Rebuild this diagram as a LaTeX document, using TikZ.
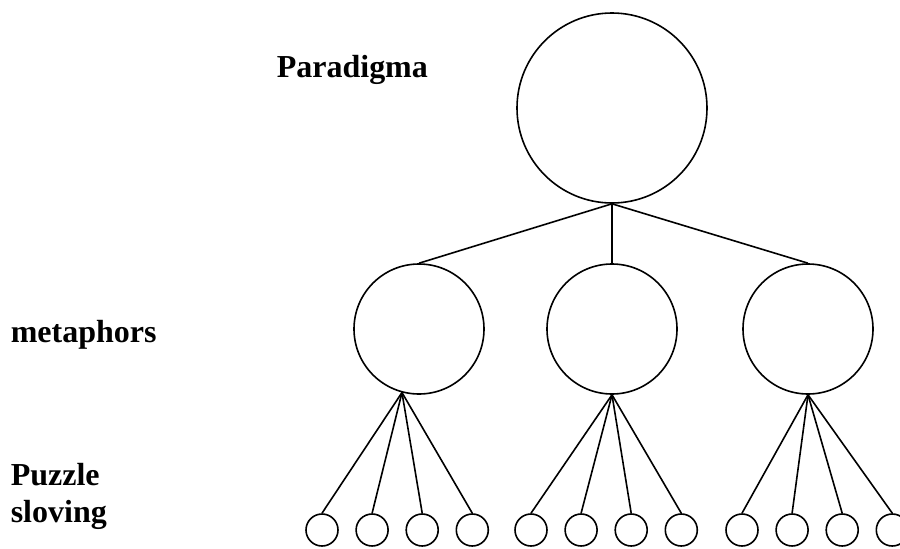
\documentclass[tikz,border=0pt]{standalone}
\usepackage{fontspec}
\setmainfont{Liberation Serif}
\usetikzlibrary{positioning}

\begin{document}
\begin{tikzpicture}[
x=1pt,y=-1pt,
node distance=16.5pt,
line width=1.6pt,
circ/.style={draw,circle,inner sep=0pt},
leaf/.style={circ,minimum size=32pt},
lbl/.style={anchor=base west,inner sep=0pt,align=left,font=\fontsize{32}{37}\selectfont\bfseries}
]
\useasboundingbox (0,0) rectangle (900,549);
\clip (0,0) rectangle (900,549);
\node[circ,minimum size=190pt] (para) at (612,108) {};
\node[circ,minimum size=130pt] (meta1) at (419,329) {};
\node[circ,minimum size=130pt] (meta2) at (612,329) {};
\node[circ,minimum size=130pt] (meta3) at (808,329) {};
\node[leaf] (pz1a) at (322,530) {};
\node[leaf,right=of pz1a] (pz1b) {};
\node[leaf,right=of pz1b] (pz1c) {};
\node[leaf,right=of pz1c] (pz1d) {};
\node[leaf] (pz2a) at (531,530) {};
\node[leaf,right=of pz2a] (pz2b) {};
\node[leaf,right=of pz2b] (pz2c) {};
\node[leaf,right=of pz2c] (pz2d) {};
\node[leaf] (pz3a) at (742,530) {};
\node[leaf,right=of pz3a] (pz3b) {};
\node[leaf,right=of pz3b] (pz3c) {};
\node[leaf,right=of pz3c] (pz3d) {};
\node[lbl] (lpara) at (276,77) {Paradigma};
\node[lbl] (lmeta) at (10,342) {metaphors};
\node[lbl] (lpz) at (10,522) {Puzzle\\sloving};
\draw (para.south) -- (meta1.north);
\draw (para.south) -- (meta2.north);
\draw (para.south) -- (meta3.north);
\draw (meta1.-105) -- (pz1a.north);
\draw (meta1.-105) -- (pz1b.north);
\draw (meta1.-105) -- (pz1c.north);
\draw (meta1.-105) -- (pz1d.north);
\draw (meta2.south) -- (pz2a.north);
\draw (meta2.south) -- (pz2b.north);
\draw (meta2.south) -- (pz2c.north);
\draw (meta2.south) -- (pz2d.north);
\draw (meta3.south) -- (pz3a.north);
\draw (meta3.south) -- (pz3b.north);
\draw (meta3.south) -- (pz3c.north);
\draw (meta3.south) -- (pz3d.north);
\end{tikzpicture}
\end{document}
